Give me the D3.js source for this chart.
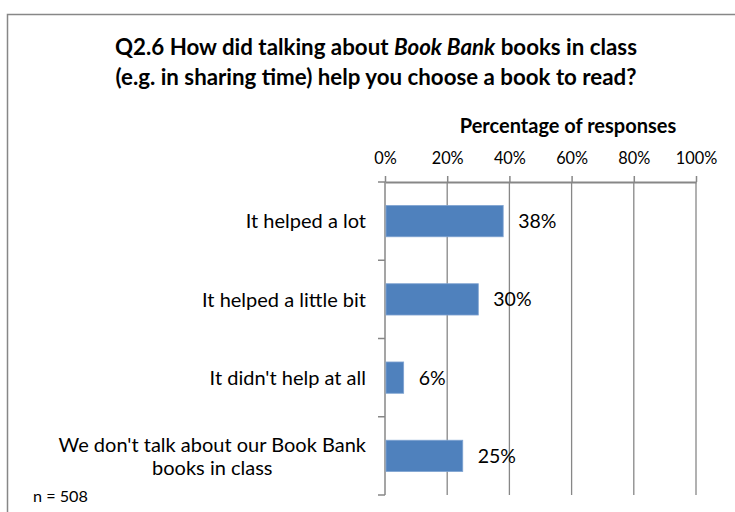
<!DOCTYPE html>
<html>
<head>
<meta charset="utf-8">
<script src="https://cdn.jsdelivr.net/npm/d3@7"></script>
<style>
  html, body { margin: 0; padding: 0; background: #fff; }
  svg { display: block; font-family: Lato, "Open Sans", sans-serif; }
</style>
</head>
<body>
<svg id="chart" width="735" height="512"></svg>
<script>
// Survey responses, percentage of pupils
const categories = [
  ["It helped a lot"],
  ["It helped a little bit"],
  ["It didn't help at all"],
  ["We don't talk about our Book Bank", "books in class"]
];
const values = [0.38, 0.30, 0.06, 0.25];
const tickValues = [0, 0.2, 0.4, 0.6, 0.8, 1.0];
const sampleNote = "n = 508";

const svg = d3.select("#chart");
const barColor = "#4F81BD";
const lineColor = "#878787";

// Outer chart frame
svg.append("rect")
  .attr("x", 7.5).attr("y", 14.5)
  .attr("width", 760).attr("height", 520)
  .attr("fill", "#fff").attr("stroke", lineColor).attr("stroke-width", 1.5);

// Title (two centred lines, product name in italics)
const title = svg.append("text")
  .attr("text-anchor", "middle")
  .attr("font-weight", "bold")
  .attr("font-size", 22.3)
  .attr("fill", "#000");
const t1 = title.append("tspan").attr("x", 376).attr("y", 55);
t1.append("tspan").text("Q2.6 How did talking about ");
t1.append("tspan").attr("font-style", "italic").text("Book Bank");
t1.append("tspan").text(" books in class");
title.append("tspan").attr("x", 376).attr("y", 85)
  .text("(e.g. in sharing time) help you choose a book to read?");

// Scales
const plotTop = 182, plotBottom = 495;
const x = d3.scaleLinear().domain([0, 1]).range([385, 696]);
const y = d3.scaleBand()
  .domain(d3.range(categories.length))
  .range([plotTop, plotBottom])
  .paddingInner(0.6)
  .paddingOuter(0.3);

// Axis title
svg.append("text")
  .attr("x", 568).attr("y", 133)
  .attr("text-anchor", "middle")
  .attr("font-weight", "bold")
  .attr("font-size", 20)
  .text("Percentage of responses");

// Vertical gridlines
svg.append("g")
  .selectAll("line")
  .data(tickValues.slice(1))
  .join("line")
  .attr("x1", d => x(d)).attr("x2", d => x(d))
  .attr("y1", plotTop).attr("y2", plotBottom)
  .attr("stroke", lineColor).attr("stroke-width", 1.3);

// Top value axis
const xAxis = svg.append("g")
  .attr("transform", `translate(0,${plotTop})`)
  .call(d3.axisTop(x).tickValues(tickValues).tickFormat(d3.format(".0%")).tickSize(6).tickSizeOuter(0).tickPadding(12));
xAxis.select(".domain").attr("stroke", lineColor).attr("stroke-width", 2);
xAxis.selectAll(".tick line").attr("stroke", lineColor).attr("stroke-width", 1.5);
xAxis.selectAll(".tick text")
  .attr("font-family", "Lato, 'Open Sans', sans-serif")
  .attr("font-size", 16.3).attr("fill", "#000");

// Category axis line and boundary ticks
svg.append("line")
  .attr("x1", x(0)).attr("x2", x(0))
  .attr("y1", plotTop).attr("y2", plotBottom)
  .attr("stroke", lineColor).attr("stroke-width", 1.5);
const boundaries = d3.range(categories.length + 1).map(i => plotTop + i * y.step());
svg.append("g").selectAll("line")
  .data(boundaries)
  .join("line")
  .attr("x1", x(0) - 7).attr("x2", x(0))
  .attr("y1", d => d).attr("y2", d => d)
  .attr("stroke", lineColor).attr("stroke-width", 1.5);

// Bars
svg.append("g").selectAll("rect")
  .data(values)
  .join("rect")
  .attr("x", x(0) + 1)
  .attr("y", (d, i) => y(i))
  .attr("width", d => x(d) - x(0) - 1)
  .attr("height", y.bandwidth())
  .attr("fill", barColor)
  .attr("stroke", "#7FA3D1").attr("stroke-width", 0.8);

// Value labels
svg.append("g").selectAll("text")
  .data(values)
  .join("text")
  .attr("x", d => x(d) + 15)
  .attr("y", (d, i) => y(i) + y.bandwidth() / 2)
  .attr("dy", "0.36em")
  .attr("font-size", 19.5)
  .attr("fill", "#000")
  .text(d => d3.format(".0%")(d));

// Category labels (right aligned block, wrapped lines centred within it)
const labelRight = 366, lineH = 23;
categories.forEach((lines, i) => {
  const cy = y(i) + y.bandwidth() / 2;
  const g = svg.append("g");
  const texts = lines.map((ln, j) => g.append("text")
    .attr("y", cy + (j - (lines.length - 1) / 2) * lineH)
    .attr("dy", "0.36em")
    .attr("font-size", 20)
    .attr("fill", "#000")
    .text(ln));
  const widths = texts.map(t => t.node().getComputedTextLength());
  const maxW = d3.max(widths);
  texts.forEach(t => t.attr("text-anchor", "middle").attr("x", labelRight - maxW / 2));
});

// Sample size note
svg.append("text")
  .attr("x", 33).attr("y", 502)
  .attr("font-size", 16.2)
  .attr("fill", "#000")
  .text(sampleNote);
</script>
</body>
</html>
